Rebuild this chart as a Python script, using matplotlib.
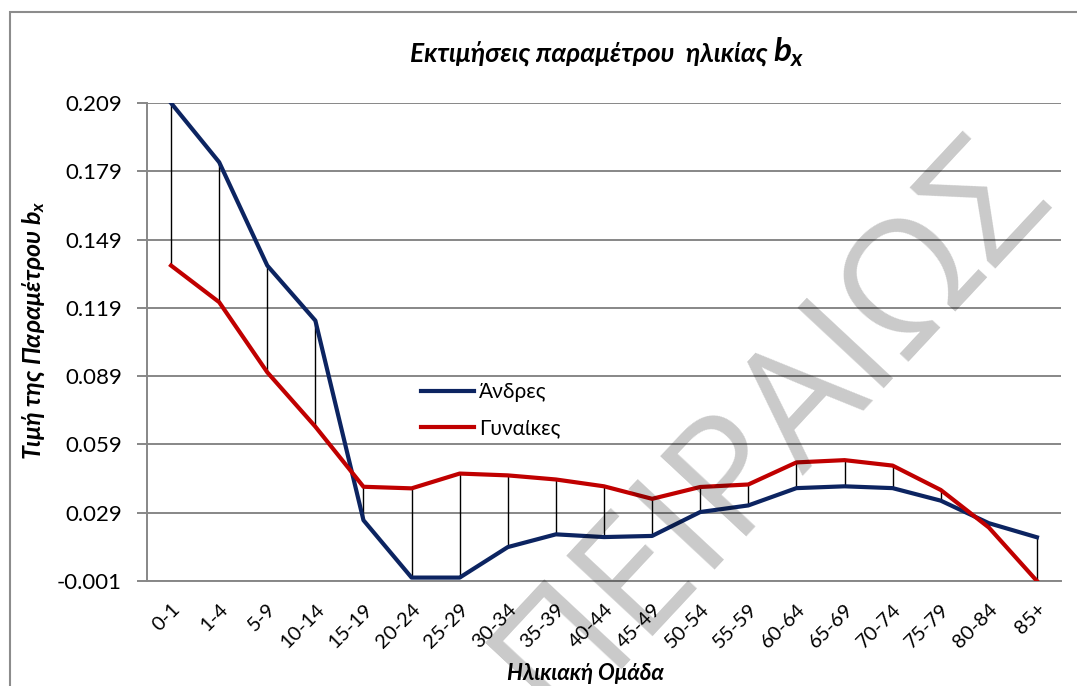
import matplotlib
matplotlib.use("Agg")
import matplotlib.pyplot as plt
from matplotlib.patches import Rectangle
import numpy as np

FONT = ['Lato', 'Open Sans', 'DejaVu Sans']
plt.rcParams['font.family'] = FONT
plt.rcParams['mathtext.fontset'] = 'custom'
plt.rcParams['mathtext.it'] = 'Lato:italic:bold'
plt.rcParams['mathtext.rm'] = 'Lato:italic:bold'

# data
age_groups = ['0-1', '1-4', '5-9', '10-14', '15-19', '20-24', '25-29', '30-34',
              '35-39', '40-44', '45-49', '50-54', '55-59', '60-64', '65-69',
              '70-74', '75-79', '80-84', '85+']
men = [0.209, 0.183, 0.1376, 0.1134, 0.0257, 0.0005, 0.0005, 0.0139, 0.0195,
       0.0183, 0.0188, 0.0293, 0.0322, 0.0398, 0.0406, 0.0398, 0.0343, 0.0244,
       0.0182]
women = [0.1376, 0.1215, 0.0907, 0.0668, 0.0404, 0.0397, 0.0462, 0.0454, 0.0436,
         0.0406, 0.0351, 0.0403, 0.0414, 0.0511, 0.0521, 0.0497, 0.039, 0.0225,
         -0.001]
y_ticks = [-0.001, 0.029, 0.059, 0.089, 0.119, 0.149, 0.179, 0.209]

navy = '#0c2461'
red = '#c00000'
grid_col = '#878787'
W, H = 1077, 686

fig = plt.figure(figsize=(10.77, 6.86), dpi=100)
fig.patches.append(Rectangle((10 / W, -0.1), 1.2, 1 - 12 / H + 0.1,
                             transform=fig.transFigure, fill=False,
                             edgecolor='#8c8c8c', lw=1.5))

ax = fig.add_axes([147 / W, 1 - 581 / H, 914 / W, 478 / H])
x = np.arange(len(age_groups))

ax.vlines(x, np.minimum(men, women), np.maximum(men, women),
          color='black', lw=1, zorder=2)
ax.plot(x, men, color=navy, lw=3.0, label='Άνδρες', zorder=3,
        solid_joinstyle='round')
ax.plot(x, women, color=red, lw=3.0, label='Γυναίκες', zorder=3,
        solid_joinstyle='round')

ax.set_xlim(-0.5, len(age_groups) - 0.5)
ax.set_ylim(-0.001, 0.209)
ax.set_yticks(y_ticks)
ax.set_yticklabels([f'{v:.3f}' for v in y_ticks], fontsize=16)
ax.set_xticks(x)
ax.set_xticklabels(age_groups, rotation=45, ha='right',
                   rotation_mode='anchor', fontsize=14.5)
ax.tick_params(axis='x', length=0, pad=14)
ax.tick_params(axis='y', length=7, color=grid_col, width=1.4, pad=11)
ax.grid(axis='y', color=grid_col, lw=1.4)
ax.set_axisbelow(True)
for s in ['top', 'right']:
    ax.spines[s].set_visible(False)
for s in ['left', 'bottom']:
    ax.spines[s].set_color(grid_col)
    ax.spines[s].set_linewidth(1.4)

# title: plain part, then a larger b_x right after it
t1 = fig.text(410 / W, 1 - 62 / H, 'Εκτιμήσεις παραμέτρου  ηλικίας ',
              fontsize=19, fontweight='bold', style='italic',
              ha='left', va='baseline')
fig.canvas.draw()
bb = t1.get_window_extent()
fig.text(bb.x1 / W, 1 - 62 / H, '$b_x$', fontsize=24, ha='left',
         va='baseline')

fig.text(585 / W, 1 - 673 / H, 'Ηλικιακή Ομάδα', fontsize=16,
         fontweight='bold', style='italic', ha='center', va='center')
fig.text(34 / W, 1 - 330 / H, 'Τιμή της Παραμέτρου $b_x$', fontsize=18,
         fontweight='bold', style='italic', rotation=90,
         ha='center', va='center')

ax.legend(loc='upper left', bbox_to_anchor=(421 / W, 1 - 382 / H),
          bbox_transform=fig.transFigure, frameon=False, borderpad=0,
          borderaxespad=0, fontsize=15, handlelength=2.55,
          handletextpad=0.25, labelspacing=0.8)

fig.text(772 / W, 1 - 428 / H, 'ΠΕΙΡΑΙΩΣ', fontsize=118,
         color='black', alpha=0.21, rotation=47, ha='center', va='center',
         family=['Open Sans', 'DejaVu Sans'], zorder=5)

fig.savefig('out.png', dpi=100)
